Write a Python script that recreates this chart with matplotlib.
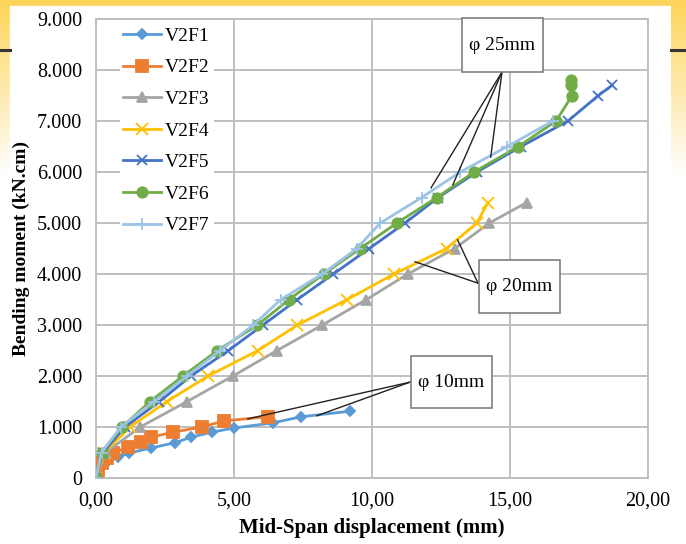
import matplotlib
matplotlib.use("Agg")
import matplotlib.pyplot as plt
import numpy as np
from matplotlib.ticker import FuncFormatter, MultipleLocator

plt.rcParams['font.family'] = ['Liberation Serif', 'DejaVu Serif']

# ---------------- data ----------------
v2f1_x = [0, 0.05, 0.15, 0.35, 0.8, 1.2, 2.0, 2.86, 3.44, 4.2, 5.0, 6.4, 7.43, 9.2]
v2f1_y = [0, 0.1, 0.2, 0.3, 0.41, 0.49, 0.59, 0.69, 0.8, 0.9, 0.98, 1.08, 1.2, 1.31]

v2f2_x = [0, 0.07, 0.2, 0.4, 0.6, 1.16, 1.63, 2.0, 2.8, 3.84, 4.64, 6.23]
v2f2_y = [0, 0.16, 0.29, 0.39, 0.49, 0.6, 0.7, 0.8, 0.9, 1.0, 1.12, 1.2]

v2f3_x = [0, 0.35, 1.6, 3.3, 4.96, 6.56, 8.2, 9.8, 11.3, 13.0, 14.25, 15.6]
v2f3_y = [0, 0.5, 1.0, 1.5, 2.0, 2.5, 3.0, 3.5, 4.0, 4.5, 5.0, 5.4]

v2f4_x = [0, 0.3, 1.23, 2.57, 4.06, 5.87, 7.3, 9.1, 10.8, 12.7, 13.8, 14.2]
v2f4_y = [0, 0.5, 1.0, 1.5, 2.0, 2.5, 3.0, 3.5, 4.0, 4.5, 5.0, 5.4]

v2f5_x = [0, 0.25, 1.05, 2.3, 3.44, 4.8, 6.05, 7.3, 8.6, 9.9, 11.2, 12.4, 13.8, 15.4, 17.1, 18.2, 18.7]
v2f5_y = [0, 0.5, 1.0, 1.5, 2.0, 2.5, 3.0, 3.5, 4.0, 4.5, 5.0, 5.5, 6.0, 6.5, 7.0, 7.5, 7.7]

v2f6_x = [0, 0.2, 0.94, 1.96, 3.15, 4.4, 5.85, 7.0, 8.25, 9.57, 10.9, 12.35, 13.7, 15.3, 16.67, 17.25, 17.2, 17.2]
v2f6_y = [0, 0.5, 1.0, 1.5, 2.0, 2.5, 3.0, 3.5, 4.0, 4.5, 5.0, 5.5, 6.0, 6.5, 7.0, 7.5, 7.7, 7.8]

v2f7_x = [0, 0.2, 0.9, 2.1, 3.3, 4.5, 5.7, 6.7, 8.2, 9.45, 10.3, 11.8, 13.2, 14.9, 16.55]
v2f7_y = [0, 0.5, 1.0, 1.5, 2.0, 2.5, 3.0, 3.5, 4.0, 4.5, 5.0, 5.5, 6.0, 6.5, 7.0]

series_names = ["V2F1", "V2F2", "V2F3", "V2F4", "V2F5", "V2F6", "V2F7"]
xlabel = "Mid-Span displacement (mm)"
ylabel = "Bending moment (kN.cm)"
labels_phi = ["φ 25mm", "φ 20mm", "φ 10mm"]

# ---------------- figure ----------------
W, H = 686, 544
fig = plt.figure(figsize=(W / 100, H / 100), dpi=100)

# background
bg = fig.add_axes([0, 0, 1, 1], zorder=-10)
bg.set_axis_off()
grad = np.ones((H, 1, 3))
top = np.array([253, 212, 88]) / 255.0
for r in range(H):
    t = min(1.0, r / 175.0)
    grad[r, 0, :] = top * (1 - t) + np.ones(3) * t
bg.imshow(grad, extent=[0, W, H, 0], aspect='auto')
bg.add_patch(plt.Rectangle((10, 6), 661, H, color='white'))
bg.plot([0, 10], [50, 50], color='#333333', lw=2.2)
bg.plot([671, W], [50, 50], color='#333333', lw=2.2)
bg.set_xlim(0, W)
bg.set_ylim(H, 0)

ax = fig.add_axes([96 / W, 1 - 478 / H, (648 - 96) / W, (478 - 19) / H])

colors = ['#5B9BD5', '#ED7D31', '#A5A5A5', '#FFC000', '#4472C4', '#70AD47', '#9DC3E6']
markers = ['D', 's', '^', 'x', 'x', 'o', '+']
msizes = [5.5, 8, 7.5, 9, 7, 7.5, 8]
xs = [v2f1_x, v2f2_x, v2f3_x, v2f4_x, v2f5_x, v2f6_x, v2f7_x]
ys = [v2f1_y, v2f2_y, v2f3_y, v2f4_y, v2f5_y, v2f6_y, v2f7_y]

for x, y, c, m, ms, name in zip(xs, ys, colors, markers, msizes, series_names):
    ax.plot(x, y, color=c, marker=m, markersize=ms, lw=2, mew=1.3, label=name, zorder=3)

ax.set_xlim(0, 20)
ax.set_ylim(0, 9)
ax.xaxis.set_major_locator(MultipleLocator(5))
ax.yaxis.set_major_locator(MultipleLocator(1))
ax.xaxis.set_major_formatter(FuncFormatter(lambda v, p: f"{v:.2f}".replace('.', ',')))
ax.yaxis.set_major_formatter(FuncFormatter(lambda v, p: "0" if v == 0 else f"{v:.3f}"))
ax.tick_params(length=0, labelsize=14.5, pad=10)
ax.grid(True, color='#BFBFBF', lw=1.4)
ax.set_axisbelow(True)
for s in ax.spines.values():
    s.set_color('#BFBFBF')
    s.set_linewidth(1.4)

ax.set_xlabel(xlabel, fontsize=15, fontweight='bold', labelpad=5)
ax.set_ylabel(ylabel, fontsize=14, fontweight='bold', labelpad=5)

leg = ax.legend(loc='upper left', bbox_to_anchor=(0.025, 1.012), frameon=True, fontsize=14,
                handlelength=1.95, labelspacing=0.72, handletextpad=0.2, borderpad=0.2)
leg.get_frame().set_edgecolor('none')
leg.get_frame().set_facecolor('white')
leg.get_frame().set_alpha(1)

# annotations: (box x0, x1, y0, y1) in data units, text, leader source and targets
notes = [
    ((13.26, 16.2, 7.96, 9.02), labels_phi[0], (14.71, 7.96), [(12.14, 5.69), (12.93, 5.75), (14.3, 6.29)]),
    ((13.88, 16.81, 3.24, 4.27), labels_phi[1], (13.84, 3.82), [(11.56, 4.24), (13.1, 4.67)]),
    ((11.41, 14.35, 1.37, 2.39), labels_phi[2], (11.38, 1.88), [(5.5, 1.16), (8.0, 1.22)]),
]
for (x0, x1, y0, y1), lab, src, pts in notes:
    for p in pts:
        ax.plot([src[0], p[0]], [src[1], p[1]], color='#222222', lw=1.0, zorder=4)
    ax.add_patch(plt.Rectangle((x0, y0), x1 - x0, y1 - y0, fc='white', ec='#7F7F7F',
                               lw=1.2, zorder=5, clip_on=False))
    ax.text((x0 + x1) / 2, (y0 + y1) / 2, lab, fontsize=14, ha='center', va='center', zorder=6)

# right strip overlay (clips last tick label like reference)
ov = fig.add_axes([671 / W, 0, 15 / W, 1], zorder=10)
ov.set_axis_off()
ov.imshow(grad, extent=[0, 15, H, 0], aspect='auto')
ov.plot([0, 15], [50, 50], color='#333333', lw=2.2)
ov.set_xlim(0, 15)
ov.set_ylim(H, 0)

fig.savefig("out.png", dpi=100)
